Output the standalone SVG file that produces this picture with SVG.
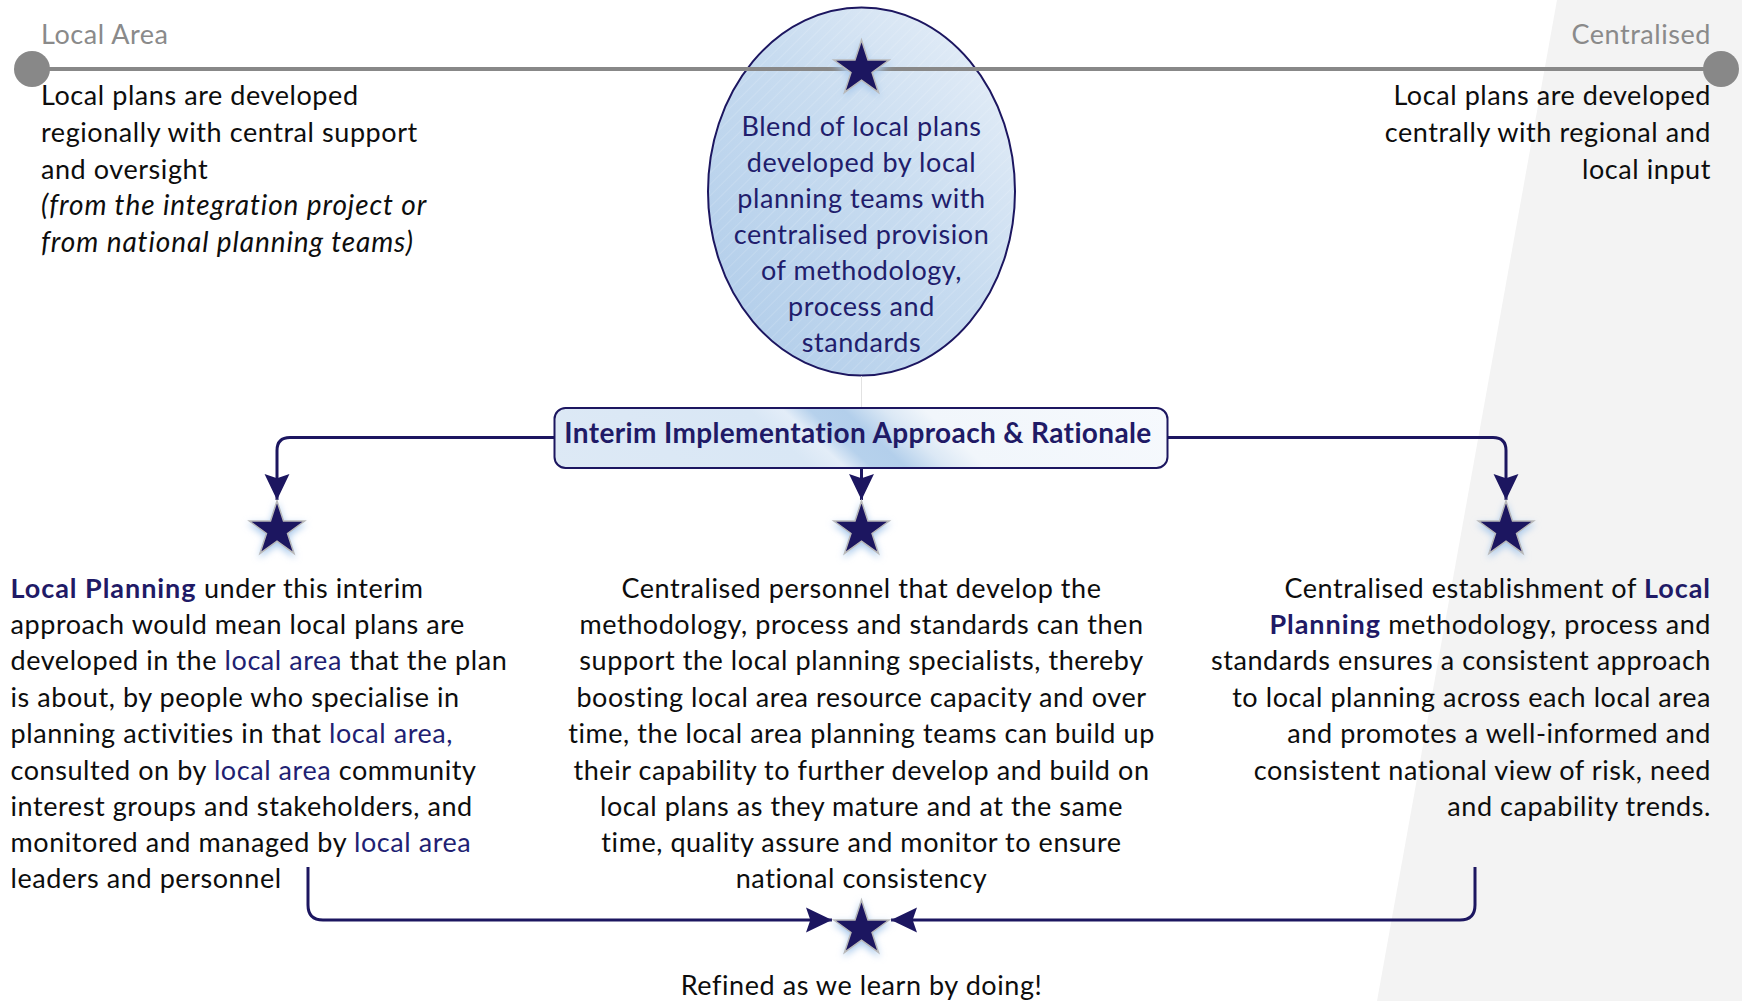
<svg xmlns="http://www.w3.org/2000/svg" width="1742" height="1001" viewBox="0 0 1742 1001">
  <style>
    text { font-family: Lato, "Liberation Sans", sans-serif; }
    .body { font-size: 27px; letter-spacing: 0.57px; fill: #0d0d0d; }
    .it { font-size: 28px; letter-spacing: 0.9px; font-style: italic; fill: #0d0d0d; }
    .mid { text-anchor: middle; }
    .end { text-anchor: end; }
    .navy { fill: #221f73; }
    .strong { font-weight: bold; fill: #1f1a66; letter-spacing: 0.95px; }
    .axis-label { font-size: 27px; letter-spacing: 0.55px; fill: #8a8a8a; }
    .blend { font-size: 27px; letter-spacing: 0.57px; fill: #211d6c; text-anchor: middle; }
    .title { font-size: 28px; letter-spacing: 0.36px; font-weight: bold; fill: #1f1a66; text-anchor: middle; }
    .conn { fill: none; stroke: #1c1660; stroke-width: 3; }
    .star { fill: #1c1660; stroke: #b9b9b9; stroke-width: 1.5; filter: url(#glow); }
  </style>
  <defs>
    <path id="starShape" d="M0,-29 L6.51,-8.96 L27.58,-8.96 L10.54,3.42 L17.05,23.46 L0,11.08 L-17.05,23.46 L-10.54,3.42 L-27.58,-8.96 L-6.51,-8.96 Z"/>
    <filter id="glow" x="-50%" y="-50%" width="200%" height="200%">
      <feFlood flood-color="#a9c9ec" result="c"/>
      <feComposite in="c" in2="SourceAlpha" operator="in" result="tint"/>
      <feGaussianBlur in="tint" stdDeviation="3.5" result="blur"/>
      <feOffset in="blur" dy="3" result="off"/>
      <feMerge>
        <feMergeNode in="off"/>
        <feMergeNode in="SourceGraphic"/>
      </feMerge>
    </filter>
    <linearGradient id="ovalFill" x1="0" y1="1" x2="1" y2="0">
      <stop offset="0" stop-color="#aecbe9"/>
      <stop offset="0.55" stop-color="#c8dcf0"/>
      <stop offset="1" stop-color="#eaf1f9"/>
    </linearGradient>
    <pattern id="hatch" width="8" height="8" patternUnits="userSpaceOnUse" patternTransform="rotate(45)">
      <line x1="0" y1="0" x2="0" y2="8" stroke="#ffffff" stroke-width="1" stroke-opacity="0.28"/>
    </pattern>
    <linearGradient id="titleFill" gradientUnits="userSpaceOnUse" x1="554" y1="468" x2="866" y2="130">
      <stop offset="0" stop-color="#dde9f5"/>
      <stop offset="0.38" stop-color="#d9e7f5"/>
      <stop offset="0.43" stop-color="#e3edf8"/>
      <stop offset="0.47" stop-color="#b6d1ec"/>
      <stop offset="0.52" stop-color="#b3cfeb"/>
      <stop offset="0.58" stop-color="#dbe8f5"/>
      <stop offset="0.64" stop-color="#f1f6fb"/>
      <stop offset="1" stop-color="#f6f9fd"/>
    </linearGradient>
    <marker id="arrow" markerUnits="userSpaceOnUse" markerWidth="26" markerHeight="26" viewBox="0 0 24 24" refX="24" refY="12" orient="auto">
      <path d="M0,0.5 L24,12 L0,23.5 L4,12 Z" fill="#1c1660"/>
    </marker>
  </defs>

  <!-- white page with the light "centralised" panel on the right -->
  <rect width="1742" height="1001" fill="#ffffff"/>
  <polygon points="1557,0 1742,0 1742,1001 1377,1001" fill="#f3f3f3"/>

  <!-- spectrum axis labels -->
  <g id="axis">
    <text class="axis-label" x="41" y="44">Local Area</text>
    <text class="axis-label end" x="1711" y="44">Centralised</text>
  </g>

  <g id="local-end">
    <text class="body" x="41" y="104.5">Local plans are developed</text>
    <text class="body" x="41" y="141.5">regionally with central support</text>
    <text class="body" x="41" y="178.5">and oversight</text>
    <text class="it" x="41" y="214.5">(from the integration project or</text>
    <text class="it" x="41" y="251.5">from national planning teams)</text>
  </g>

  <g id="central-end">
    <text class="body end" x="1711" y="104.5">Local plans are developed</text>
    <text class="body end" x="1711" y="141.5">centrally with regional and</text>
    <text class="body end" x="1711" y="178.5">local input</text>
  </g>

  <!-- blended position on the spectrum -->
  <g id="blend">
    <ellipse cx="861.5" cy="191.5" rx="153.5" ry="184" fill="url(#ovalFill)"/>
    <ellipse cx="861.5" cy="191.5" rx="153.5" ry="184" fill="url(#hatch)" stroke="#1c1660" stroke-width="2"/>
    <text class="blend" x="861.5" y="136">Blend of local plans</text>
    <text class="blend" x="861.5" y="172">developed by local</text>
    <text class="blend" x="861.5" y="208">planning teams with</text>
    <text class="blend" x="861.5" y="244">centralised provision</text>
    <text class="blend" x="861.5" y="280">of methodology,</text>
    <text class="blend" x="861.5" y="316">process and</text>
    <text class="blend" x="861.5" y="352">standards</text>
  </g>

  <g id="axis-line">
    <line x1="32" y1="69" x2="1721" y2="69" stroke="#888888" stroke-width="4"/>
    <circle cx="32" cy="69" r="18" fill="#888888"/>
    <circle cx="1721" cy="69" r="18" fill="#888888"/>
    <use href="#starShape" class="star" transform="translate(861.5,69)"/>
  </g>

  <!-- connectors -->
  <g id="connectors">
    <line x1="861.5" y1="376" x2="861.5" y2="408" stroke="#e2e2e2" stroke-width="1"/>
    <path class="conn" d="M554,437.5 H290 Q277,437.5 277,450.5 V500" marker-end="url(#arrow)"/>
    <path class="conn" d="M861.5,468 V500" marker-end="url(#arrow)"/>
    <path class="conn" d="M1168,437.5 H1493 Q1506,437.5 1506,450.5 V500" marker-end="url(#arrow)"/>
    <path class="conn" d="M308,867 V905 Q308,920 323,920 H832" marker-end="url(#arrow)"/>
    <path class="conn" d="M1475,867 V905 Q1475,920 1460,920 H891" marker-end="url(#arrow)"/>
  </g>

  <g id="title">
    <rect x="554.5" y="408" width="613" height="60" rx="11" fill="url(#titleFill)" stroke="#1c1660" stroke-width="2"/>
    <text class="title" x="858" y="443">Interim Implementation Approach &amp; Rationale</text>
  </g>

  <g id="local-planning">
    <use href="#starShape" class="star" transform="translate(277,530)"/>
    <text class="body" x="10.5" y="597.5"><tspan class="strong">Local Planning</tspan> under this interim</text>
    <text class="body" x="10.5" y="633.5">approach would mean local plans are</text>
    <text class="body" x="10.5" y="669.5">developed in the <tspan class="navy">local area</tspan> that the plan</text>
    <text class="body" x="10.5" y="706.5">is about, by people who specialise in</text>
    <text class="body" x="10.5" y="743">planning activities in that <tspan class="navy">local area,</tspan></text>
    <text class="body" x="10.5" y="779.5">consulted on by <tspan class="navy">local area</tspan> community</text>
    <text class="body" x="10.5" y="816">interest groups and stakeholders, and</text>
    <text class="body" x="10.5" y="852">monitored and managed by <tspan class="navy">local area</tspan></text>
    <text class="body" x="10.5" y="888">leaders and personnel</text>
  </g>

  <g id="central-support">
    <use href="#starShape" class="star" transform="translate(861.5,530)"/>
    <text class="body mid" x="861.5" y="597.5">Centralised personnel that develop the</text>
    <text class="body mid" x="861.5" y="633.5">methodology, process and standards can then</text>
    <text class="body mid" x="861.5" y="669.5">support the local planning specialists, thereby</text>
    <text class="body mid" x="861.5" y="706.5">boosting local area resource capacity and over</text>
    <text class="body mid" x="861.5" y="743">time, the local area planning teams can build up</text>
    <text class="body mid" x="861.5" y="779.5">their capability to further develop and build on</text>
    <text class="body mid" x="861.5" y="816">local plans as they mature and at the same</text>
    <text class="body mid" x="861.5" y="852">time, quality assure and monitor to ensure</text>
    <text class="body mid" x="861.5" y="888">national consistency</text>
  </g>

  <g id="central-establishment">
    <use href="#starShape" class="star" transform="translate(1506,530)"/>
    <text class="body end" x="1711" y="597.5">Centralised establishment of <tspan class="strong">Local</tspan></text>
    <text class="body end" x="1711" y="633.5"><tspan class="strong">Planning</tspan> methodology, process and</text>
    <text class="body end" x="1711" y="669.5">standards ensures a consistent approach</text>
    <text class="body end" x="1711" y="706.5">to local planning across each local area</text>
    <text class="body end" x="1711" y="743">and promotes a well-informed and</text>
    <text class="body end" x="1711" y="779.5">consistent national view of risk, need</text>
    <text class="body end" x="1711" y="816">and capability trends.</text>
  </g>

  <g id="refine">
    <use href="#starShape" class="star" transform="translate(861.5,929)"/>
    <text class="body mid" x="861.5" y="995">Refined as we learn by doing!</text>
  </g>
</svg>
